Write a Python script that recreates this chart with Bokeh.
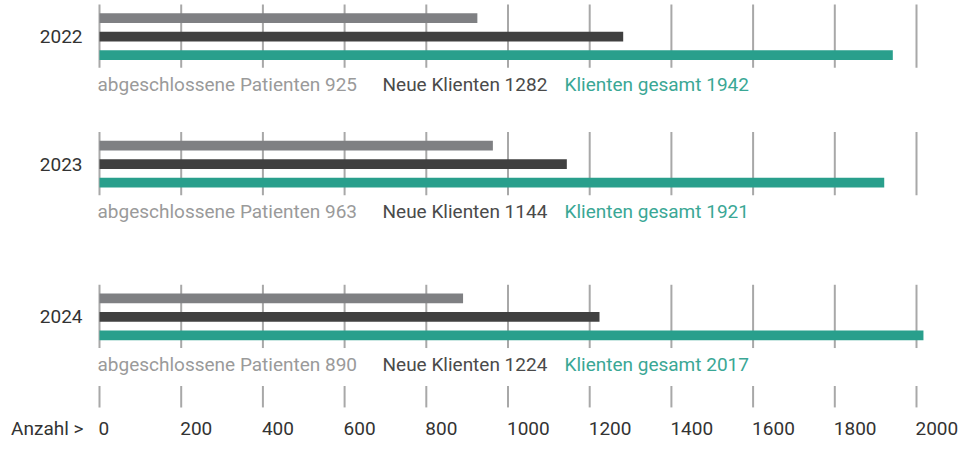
from bokeh.plotting import figure
from bokeh.models import Range1d, ColumnDataSource
from bokeh.embed import file_html
from bokeh.resources import INLINE
from bokeh.core.properties import value

# ---- data ----
years = ["2022", "2023", "2024"]
abgeschlossene = [925, 963, 890]
neue_klienten = [1282, 1144, 1224]
klienten_gesamt = [1942, 1921, 2017]
series_names = ["abgeschlossene Patienten", "Neue Klienten", "Klienten gesamt"]
ticks = [0, 200, 400, 600, 800, 1000, 1200, 1400, 1600, 1800, 2000]
tick_labels = ["0", "200", "400", "600", "800", "1000", "1200", "1400", "1600", "1800", "2000"]
axis_title = "Anzahl >"

# ---- layout / style ----
FONT = value("Roboto")
FS = "19px"
group_y = [41, 172, 329]          # vertical centre of each year group
bar_offsets = [-19, 0, 19]
bar_colors = ["#7f8083", "#404040", "#299f8c"]
label_colors = ["#9a9a9a", "#4a4a4a", "#3aa795"]
label_x_offsets = [-2, 283, 465]
grid_color = "#a8a8a8"

p = figure(width=963, height=441,
           x_range=Range1d(-242.35, 2115.05), y_range=Range1d(457, 4),
           x_axis_type=None, y_axis_type=None,
           output_backend="svg", toolbar_location=None, min_border=0)
p.grid.visible = False
p.outline_line_color = None
p.background_fill_color = "white"
p.border_fill_color = "white"

series = [abgeschlossene, neue_klienten, klienten_gesamt]

# grid segments per group
gx, gy0, gy1 = [], [], []
for c in group_y:
    for t in ticks:
        gx.append(t); gy0.append(c - 33); gy1.append(c + 32)
p.segment(x0=gx, y0=gy0, x1=gx, y1=gy1, line_color=grid_color, line_width=2)

# bars
for s, vals in enumerate(series):
    src = ColumnDataSource(dict(y=[c + bar_offsets[s] for c in group_y], right=vals))
    p.hbar(y="y", left=0, right="right", height=10, source=src,
           fill_color=bar_colors[s], line_color=None)

# value labels under each group
for s, vals in enumerate(series):
    texts = [f"{series_names[s]} {v}" for v in vals]
    p.text(x=[0] * len(vals), y=[c + 49 for c in group_y], text=texts,
           x_offset=label_x_offsets[s], text_font=FONT, text_font_size=FS,
           text_color=label_colors[s], text_align="left", text_baseline="middle")

# year labels
p.text(x=[0] * 3, y=group_y, text=years, x_offset=-17, text_font=FONT,
       text_font_size=FS, text_color="#333333", text_align="right",
       text_baseline="middle")

# tick row
p.segment(x0=ticks, y0=[400] * len(ticks), x1=ticks, y1=[422] * len(ticks),
          line_color=grid_color, line_width=2)
p.text(x=ticks, y=[444] * len(ticks), text=tick_labels, x_offset=-1,
       text_font=FONT, text_font_size=FS, text_color="#333333",
       text_align="left", text_baseline="middle")
p.text(x=[0], y=[444], text=[axis_title], x_offset=-16, text_font=FONT,
       text_font_size=FS, text_color="#333333", text_align="right",
       text_baseline="middle")

open("out.html", "w").write(file_html(p, INLINE))
